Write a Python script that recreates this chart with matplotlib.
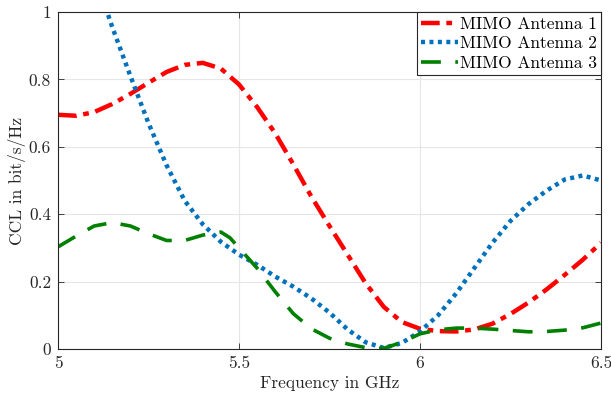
import numpy as np
import matplotlib.pyplot as plt

plt.rcParams['font.family'] = 'serif'
plt.rcParams['font.serif'] = ['cmr10', 'DejaVu Serif']
plt.rcParams['axes.formatter.use_mathtext'] = True
plt.rcParams['mathtext.fontset'] = 'cm'

# --- data ---
x_ant1 = [5.00, 5.05, 5.10, 5.15, 5.20, 5.25, 5.30, 5.35, 5.40, 5.45, 5.50, 5.55, 5.60, 5.65,
          5.70, 5.75, 5.80, 5.85, 5.90, 5.95, 6.00, 6.05, 6.10, 6.15, 6.20, 6.25, 6.30, 6.35,
          6.40, 6.45, 6.50]
ccl_ant1 = [0.695, 0.692, 0.703, 0.727, 0.757, 0.790, 0.822, 0.843, 0.849, 0.832, 0.785, 0.718,
            0.640, 0.548, 0.452, 0.365, 0.280, 0.195, 0.125, 0.080, 0.060, 0.053, 0.052, 0.058,
            0.075, 0.104, 0.138, 0.177, 0.220, 0.265, 0.315]

x_ant2 = [5.12, 5.15, 5.20, 5.25, 5.30, 5.35, 5.40, 5.45, 5.50, 5.55, 5.60, 5.65, 5.70, 5.75,
          5.80, 5.85, 5.90, 5.95, 6.00, 6.05, 6.10, 6.15, 6.20, 6.25, 6.30, 6.35, 6.40, 6.45,
          6.50]
ccl_ant2 = [1.05, 0.955, 0.81, 0.67, 0.545, 0.44, 0.37, 0.318, 0.28, 0.25, 0.215, 0.185, 0.15,
            0.108, 0.058, 0.02, 0.003, 0.018, 0.052, 0.10, 0.165, 0.24, 0.315, 0.38, 0.43,
            0.47, 0.503, 0.515, 0.50]

x_ant3 = [5.00, 5.05, 5.10, 5.15, 5.20, 5.25, 5.30, 5.35, 5.40, 5.45, 5.475, 5.50, 5.55, 5.60,
          5.65, 5.70, 5.75, 5.80, 5.85, 5.90, 5.95, 6.00, 6.05, 6.10, 6.15, 6.20, 6.25, 6.30,
          6.35, 6.40, 6.45, 6.50]
ccl_ant3 = [0.303, 0.335, 0.365, 0.375, 0.365, 0.342, 0.322, 0.322, 0.338, 0.347, 0.33, 0.30,
            0.24, 0.17, 0.105, 0.06, 0.032, 0.015, 0.004, 0.002, 0.02, 0.045, 0.057, 0.062,
            0.062, 0.059, 0.055, 0.051, 0.052, 0.056, 0.063, 0.077]

fig = plt.figure(figsize=(6.11, 3.99), dpi=100)
ax = fig.add_axes([0.0949, 0.1253, 0.8887, 0.8447])

ax.plot(x_ant1, ccl_ant1, color="#ff0000", linewidth=3.2, dashes=(4.2, 1.5, 1.3, 1.5),
        label="MIMO Antenna 1")
ax.plot(x_ant2, ccl_ant2, color="#0072bd", linewidth=3.2, dashes=(0.9, 1.0),
        label="MIMO Antenna 2")
ax.plot(x_ant3, ccl_ant3, color="#008000", linewidth=2.6, dashes=(5.5, 4.0),
        label="MIMO Antenna 3")

ax.set_xlim(5, 6.5)
ax.set_ylim(0, 1)
ax.set_xticks([5, 5.5, 6, 6.5])
ax.set_xticklabels(["5", "5.5", "6", "6.5"])
ax.set_yticks([0, 0.2, 0.4, 0.6, 0.8, 1])
ax.set_yticklabels(["0", "0.2", "0.4", "0.6", "0.8", "1"])
ax.tick_params(direction="in", top=True, right=True, labelsize=12.5, colors="#262626",
               length=4, width=0.6, pad=5)
ax.grid(True, color="#e6e6e6", linewidth=0.8)
ax.set_axisbelow(True)
for s in ax.spines.values():
    s.set_color("#262626")
    s.set_linewidth(0.8)

ax.set_xlabel("Frequency in GHz", fontsize=12.5, color="#262626", labelpad=3)
ax.set_ylabel("CCL in bit/s/Hz", fontsize=12.5, color="#262626", labelpad=2)

leg = ax.legend(loc="upper right", fontsize=12.5, handlelength=2.1, handletextpad=0.1,
                borderpad=0.25, labelspacing=0.25, borderaxespad=0.0, fancybox=False,
                framealpha=1)
leg.get_frame().set_edgecolor("#262626")
leg.get_frame().set_linewidth(0.8)

fig.savefig("out.png", dpi=100)
